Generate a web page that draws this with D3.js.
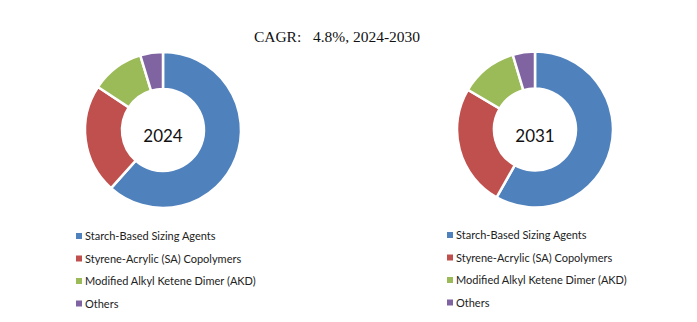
<!DOCTYPE html>
<html><head><meta charset="utf-8">
<script src="https://cdn.jsdelivr.net/npm/d3@7"></script>
<style>body{margin:0;background:#fff;}svg{display:block;}</style>
</head><body>
<script>
const categories = ["Starch-Based Sizing Agents","Styrene-Acrylic (SA) Copolymers","Modified Alkyl Ketene Dimer (AKD)","Others"];
const years = ["2024","2031"];
const values2024 = [61.6, 22.7, 11.0, 4.7];
const values2031 = [58.2, 25.3, 11.9, 4.6];
const colors = ["#4F81BD","#C0504D","#9BBB59","#8064A2"];
const title = "CAGR:   4.8%, 2024-2030";

const W = 697, H = 322;
const svg = d3.select("body").append("svg").attr("width", W).attr("height", H);
svg.append("rect").attr("width", W).attr("height", H).attr("fill", "#fff");

svg.append("text").attr("x", 337).attr("y", 42).attr("text-anchor", "middle")
  .attr("font-family", "'Liberation Serif', 'DejaVu Serif', serif").attr("font-size", 15.5)
  .attr("fill", "#111").attr("xml:space","preserve").style("white-space","pre").text(title);

const pie = d3.pie().sort(null).value(d => d);
const arc = d3.arc().innerRadius(41).outerRadius(78);
const color = d3.scaleOrdinal().domain(categories).range(colors);

const charts = [
  {year: years[0], values: values2024, cx: 163, cy: 130, lx: 76, ly: 236},
  {year: years[1], values: values2031, cx: 535, cy: 129.5, lx: 447, ly: 235}
];

charts.forEach(c => {
  const g = svg.append("g").attr("transform", `translate(${c.cx},${c.cy})`);
  g.selectAll("path").data(pie(c.values)).join("path")
    .attr("d", arc).attr("fill", (d,i) => color(categories[i]))
    .attr("stroke", "#fff").attr("stroke-width", 2.5);
  g.append("text").attr("text-anchor", "middle").attr("y", 12)
    .attr("font-family", "Lato, 'Open Sans', sans-serif").attr("font-size", 17)
    .attr("fill", "#111").text(c.year);

  const lg = svg.append("g").attr("transform", `translate(${c.lx},${c.ly})`);
  const rows = lg.selectAll("g").data(categories).join("g")
    .attr("transform", (d,i) => `translate(0,${i*22.5})`);
  rows.append("rect").attr("x", 0).attr("y", -3).attr("width", 6).attr("height", 6)
    .attr("fill", d => color(d));
  rows.append("text").attr("x", 9).attr("y", 4)
    .attr("font-family", "Lato, 'Open Sans', sans-serif").attr("font-size", 11)
    .attr("fill", "#222").text(d => d);
});
</script>
</body></html>
